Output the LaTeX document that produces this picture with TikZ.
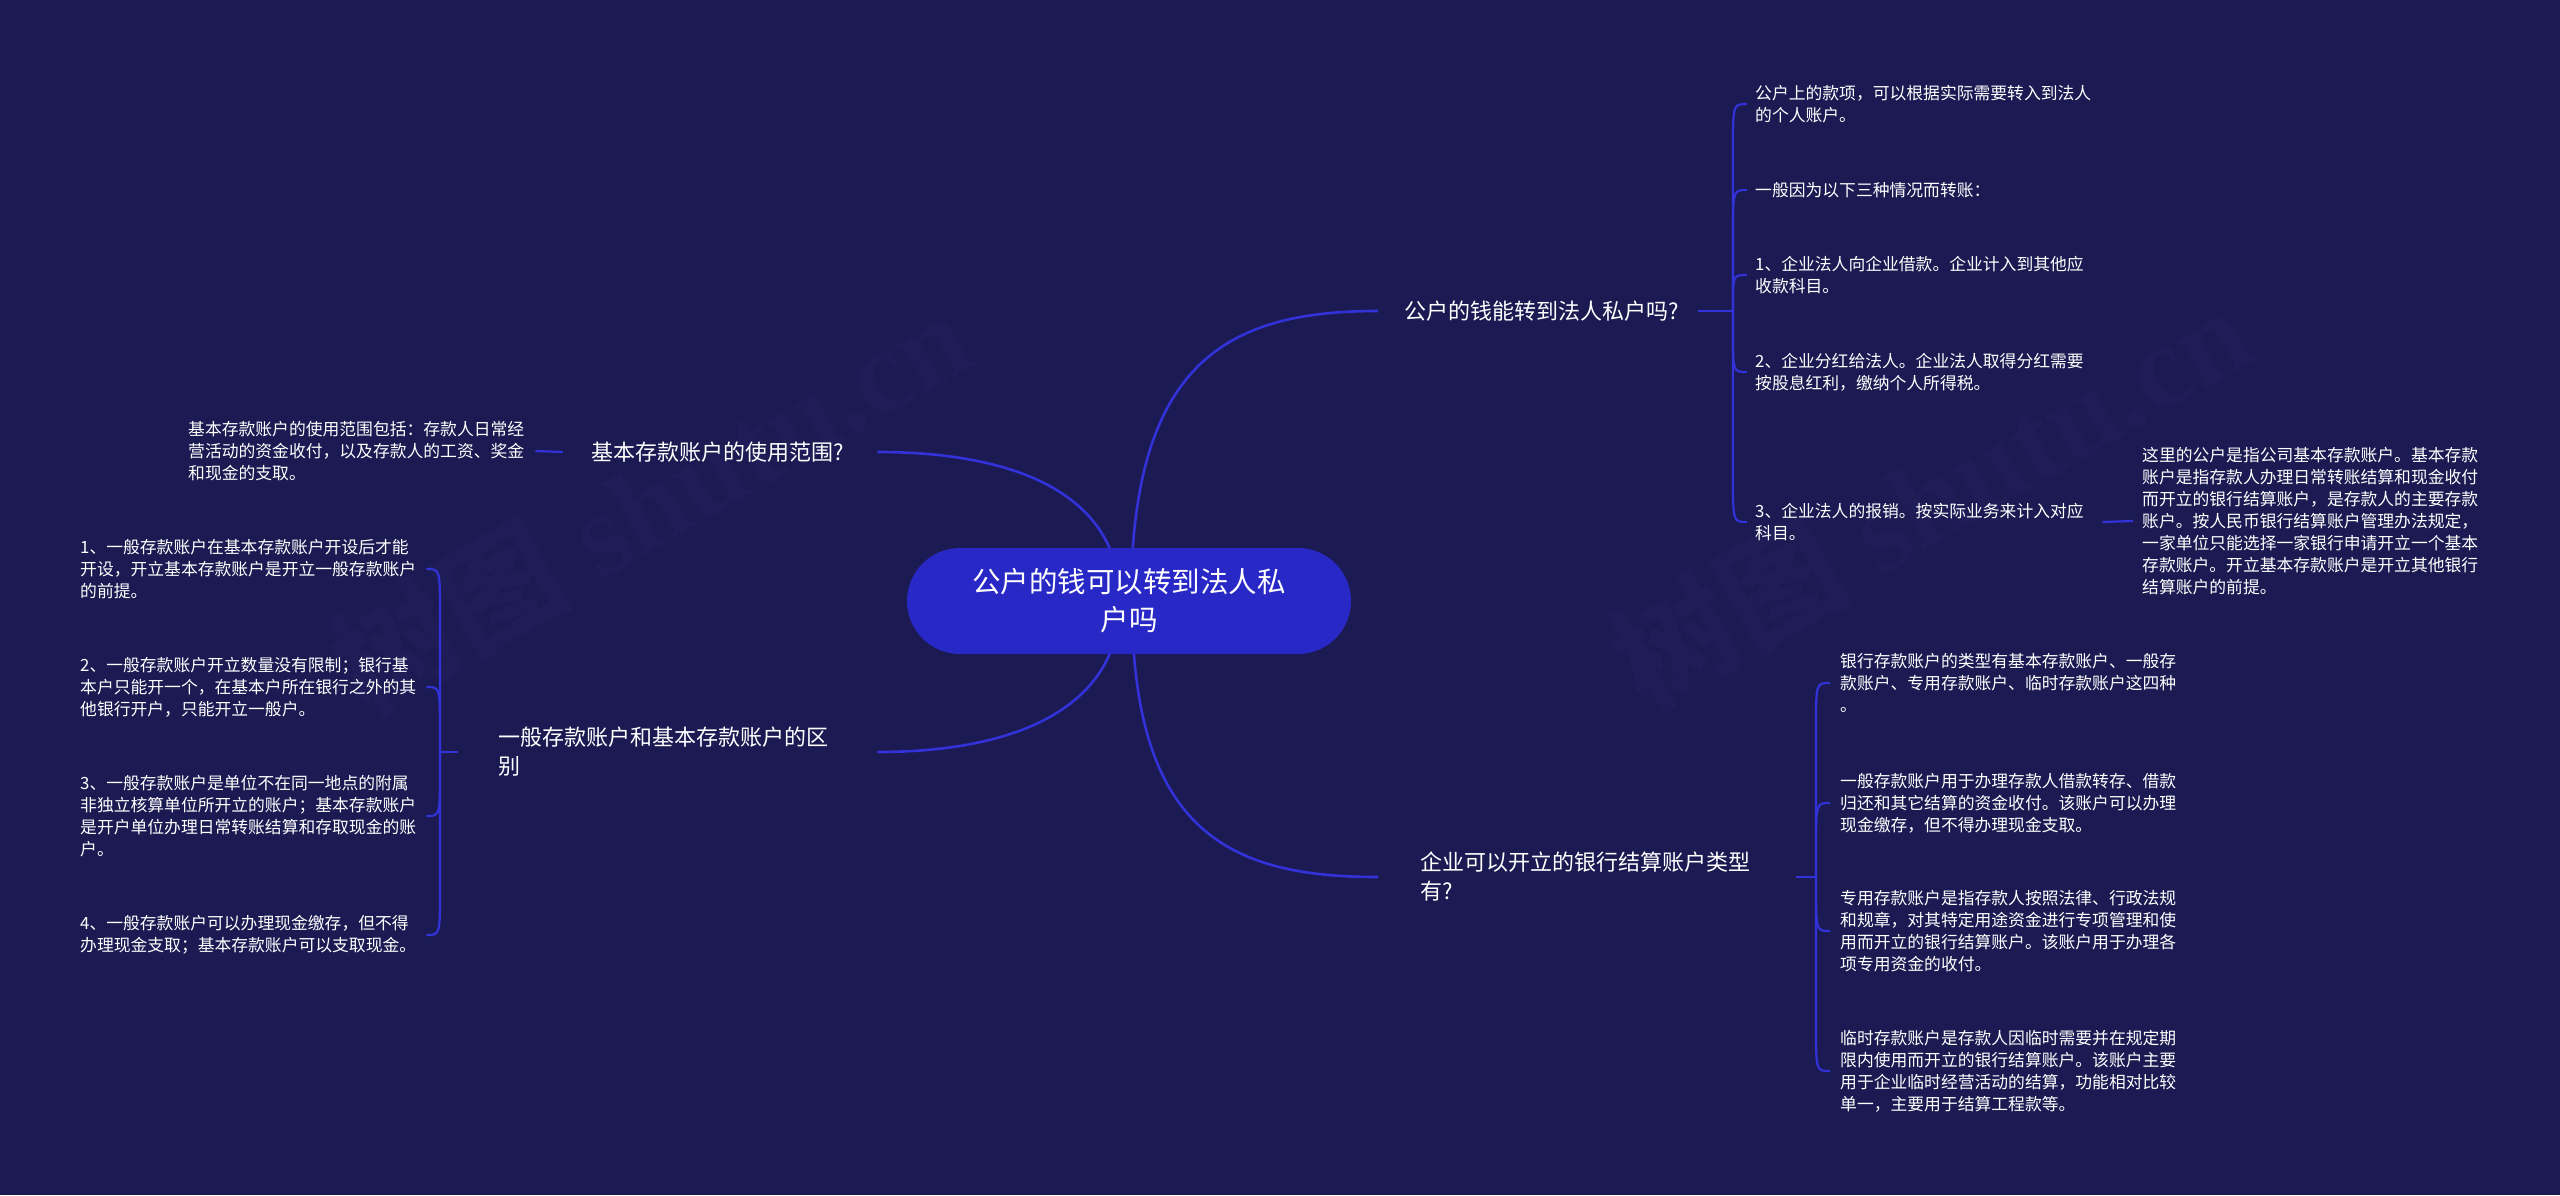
\documentclass[tikz,border=0pt]{standalone}
\usepackage{fontspec}
\setmainfont{Noto Sans CJK SC}
\newfontfamily\wmserif{Liberation Serif}
\usetikzlibrary{calc}
\definecolor{bgc}{RGB}{27,26,82}
\definecolor{linec}{RGB}{50,50,216}
\definecolor{rootc}{RGB}{40,40,198}
\definecolor{wmc}{RGB}{30,29,87}
\pgfdeclarelayer{bg}
\pgfdeclarelayer{edges}
\pgfsetlayers{bg,edges,main}
\tikzset{
  topic/.style={text=white, font=\fontsize{22}{29}\selectfont, align=left, inner sep=0pt, anchor=west},
  detail/.style={text=white, font=\fontsize{16.8}{22}\selectfont, align=left, inner sep=0pt, anchor=west, text width=344pt},
  rootnode/.style={fill=rootc, rounded corners=53pt, minimum width=444pt, minimum height=106pt, inner sep=0pt, text=white, font=\fontsize{28.5}{38}\selectfont, align=center},
  conn/.style={draw=linec, line width=2.6pt},
  brk/.style={draw=linec, line width=2.2pt},
  wm/.style={text=wmc, font=\wmserif\bfseries\fontsize{120}{120}\selectfont, rotate=30}
}
\begin{document}
\begin{tikzpicture}[x=1pt,y=-1pt]
\begin{pgfonlayer}{bg}
\fill[bgc] (0,0) rectangle (2560,1195);
\node[wm] (wm1) at (650,500) {{\rmfamily 树图} shutu.cn};
\node[wm] (wm2) at (1930,495) {{\rmfamily 树图} shutu.cn};
\end{pgfonlayer}
\useasboundingbox (0,0) rectangle (2560,1195);

% root and topics
\node[rootnode] (root) at (1129,601) {公户的钱可以转到法人私\\户吗};
\node[topic, text width=294pt] (r1) at (1404,311) {公户的钱能转到法人私户吗?};
\node[topic, text width=376pt] (r2) at (1420,877) {企业可以开立的银行结算账户类型\\有?};
\node[topic, text width=286pt] (l1) at (591,452) {基本存款账户的使用范围?};
\node[topic, text width=379pt] (l2) at (498,752) {一般存款账户和基本存款账户的区\\别};

% right upper details
\node[detail] (c1) at (1755,104) {公户上的款项，可以根据实际需要转入到法人\\的个人账户。};
\node[detail] (c2) at (1755,190) {一般因为以下三种情况而转账：};
\node[detail] (c3) at (1755,275) {1、企业法人向企业借款。企业计入到其他应\\收款科目。};
\node[detail] (c4) at (1755,372) {2、企业分红给法人。企业法人取得分红需要\\按股息红利，缴纳个人所得税。};
\node[detail] (c5) at (1755,522) {3、企业法人的报销。按实际业务来计入对应\\科目。};
\node[detail] (p1) at (2142,521) {这里的公户是指公司基本存款账户。基本存款\\账户是指存款人办理日常转账结算和现金收付\\而开立的银行结算账户，是存款人的主要存款\\账户。按人民币银行结算账户管理办法规定，\\一家单位只能选择一家银行申请开立一个基本\\存款账户。开立基本存款账户是开立其他银行\\结算账户的前提。};

% right lower details
\node[detail] (d1) at (1840,683) {银行存款账户的类型有基本存款账户、一般存\\款账户、专用存款账户、临时存款账户这四种\\。};
\node[detail] (d2) at (1840,803) {一般存款账户用于办理存款人借款转存、借款\\归还和其它结算的资金收付。该账户可以办理\\现金缴存，但不得办理现金支取。};
\node[detail] (d3) at (1840,931) {专用存款账户是指存款人按照法律、行政法规\\和规章，对其特定用途资金进行专项管理和使\\用而开立的银行结算账户。该账户用于办理各\\项专用资金的收付。};
\node[detail] (d4) at (1840,1071) {临时存款账户是存款人因临时需要并在规定期\\限内使用而开立的银行结算账户。该账户主要\\用于企业临时经营活动的结算，功能相对比较\\单一，主要用于结算工程款等。};

% left details
\node[detail] (q1) at (188,451) {基本存款账户的使用范围包括：存款人日常经\\营活动的资金收付，以及存款人的工资、奖金\\和现金的支取。};
\node[detail] (e1) at (80,569) {1、一般存款账户在基本存款账户开设后才能\\开设，开立基本存款账户是开立一般存款账户\\的前提。};
\node[detail] (e2) at (80,687) {2、一般存款账户开立数量没有限制；银行基\\本户只能开一个，在基本户所在银行之外的其\\他银行开户，只能开立一般户。};
\node[detail] (e3) at (80,816) {3、一般存款账户是单位不在同一地点的附属\\非独立核算单位所开立的账户；基本存款账户\\是开户单位办理日常转账结算和存取现金的账\\户。};
\node[detail] (e4) at (80,935) {4、一般存款账户可以办理现金缴存，但不得\\办理现金支取；基本存款账户可以支取现金。};

% bracket junctions
\coordinate (b1) at (1733,311);
\coordinate (b2) at (1816,877);
\coordinate (b3) at (440,752);

\begin{pgfonlayer}{edges}
% main connectors
\draw[conn] ([xshift=2pt]root.center) .. controls +(0,-240) and +(-150,0) .. ([xshift=-26pt]r1.west);
\draw[conn] ([xshift=3pt]root.center) .. controls +(0,230) and +(-150,0) .. ([xshift=-42pt]r2.west);
\draw[conn] ([xshift=-9pt]root.center) .. controls +(0,-100) and +(150,0) .. (l1.east);
\draw[conn] ([xshift=-9pt]root.center) .. controls +(0,100) and +(150,0) .. (l2.east);
% stubs
\draw[brk] (r1.east) -- (b1);
\draw[brk] (r2.east) -- (b2);
\draw[brk] ([xshift=-40pt]l2.west) -- (b3);
\draw[brk] ([xshift=3pt]q1.east) -- ([xshift=-28pt]l1.west);
\draw[brk] ([xshift=3pt]c5.east) -- ([xshift=-9pt]p1.west);
% bracket R1
\draw[brk] (b1) -- ($(b1 |- c1.west)+(0,45)$) .. controls (b1 |- c1.west) .. ([xshift=-8pt]c1.west);
\draw[brk] (b1) -- ($(b1 |- c2.west)+(0,45)$) .. controls (b1 |- c2.west) .. ([xshift=-8pt]c2.west);
\draw[brk] (b1) -- ($(b1 |- c3.west)+(0,30)$) .. controls (b1 |- c3.west) .. ([xshift=-8pt]c3.west);
\draw[brk] (b1) -- ($(b1 |- c4.west)+(0,-40)$) .. controls (b1 |- c4.west) .. ([xshift=-8pt]c4.west);
\draw[brk] (b1) -- ($(b1 |- c5.west)+(0,-45)$) .. controls (b1 |- c5.west) .. ([xshift=-8pt]c5.west);
% bracket R2
\draw[brk] (b2) -- ($(b2 |- d1.west)+(0,45)$) .. controls (b2 |- d1.west) .. ([xshift=-10pt]d1.west);
\draw[brk] (b2) -- ($(b2 |- d2.west)+(0,45)$) .. controls (b2 |- d2.west) .. ([xshift=-10pt]d2.west);
\draw[brk] (b2) -- ($(b2 |- d3.west)+(0,-45)$) .. controls (b2 |- d3.west) .. ([xshift=-10pt]d3.west);
\draw[brk] (b2) -- ($(b2 |- d4.west)+(0,-45)$) .. controls (b2 |- d4.west) .. ([xshift=-10pt]d4.west);
% bracket L2
\draw[brk] (b3) -- ($(b3 |- e1.east)+(0,45)$) .. controls (b3 |- e1.east) .. ([xshift=2pt]e1.east);
\draw[brk] (b3) -- ($(b3 |- e2.east)+(0,45)$) .. controls (b3 |- e2.east) .. ([xshift=2pt]e2.east);
\draw[brk] (b3) -- ($(b3 |- e3.east)+(0,-45)$) .. controls (b3 |- e3.east) .. ([xshift=2pt]e3.east);
\draw[brk] (b3) -- ($(b3 |- e4.east)+(0,-45)$) .. controls (b3 |- e4.east) .. ([xshift=2pt]e4.east);
\end{pgfonlayer}
\end{tikzpicture}
\end{document}
